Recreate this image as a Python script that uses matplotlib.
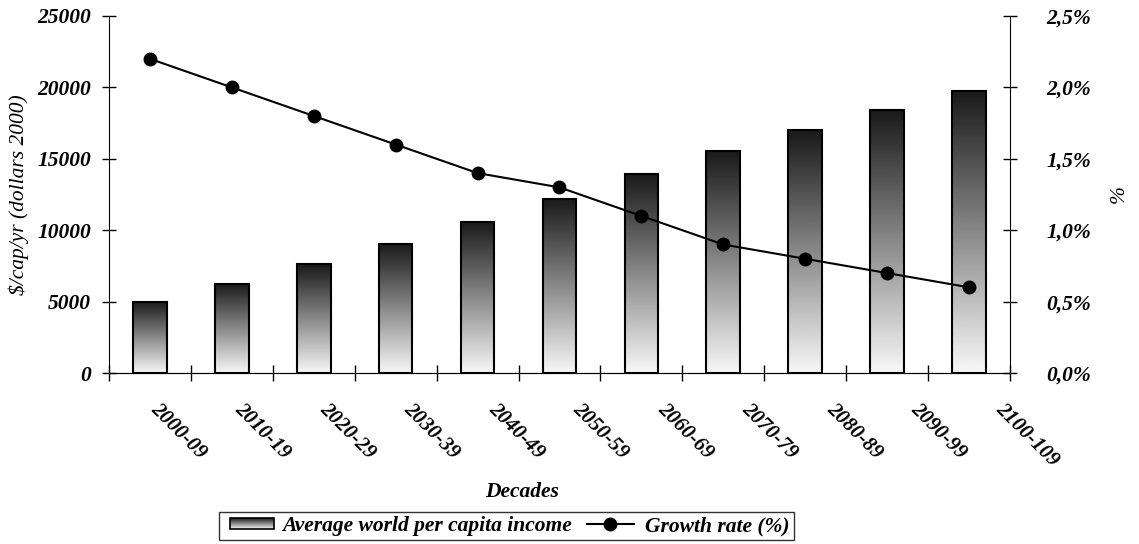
import numpy as np
import matplotlib
matplotlib.use("Agg")
import matplotlib.pyplot as plt
from matplotlib.ticker import FuncFormatter, FixedLocator
from matplotlib.legend_handler import HandlerBase
from matplotlib.image import BboxImage
from matplotlib.transforms import Bbox, TransformedBbox
from matplotlib.patches import Rectangle
from matplotlib.lines import Line2D

decades = ["2000-09", "2010-19", "2020-29", "2030-39", "2040-49", "2050-59",
           "2060-69", "2070-79", "2080-89", "2090-99", "2100-109"]
income = [5000, 6250, 7600, 9050, 10600, 12200, 13950, 15550, 17000, 18450, 19750]
growth = [2.2, 2.0, 1.8, 1.6, 1.4, 1.3, 1.1, 0.9, 0.8, 0.7, 0.6]

plt.rcParams["font.family"] = "Liberation Serif"
plt.rcParams["font.weight"] = "bold"
plt.rcParams["font.style"] = "italic"
plt.rcParams["font.size"] = 15.5

# vertical shade: dark on top, almost white at the base
shade = np.linspace(0.97, 0.1, 256).reshape(-1, 1)


class ShadedBox(HandlerBase):
    def create_artists(self, legend, orig_handle, xdescent, ydescent,
                       width, height, fontsize, trans):
        w = width * 0.92
        h = height * 0.72
        y0 = -ydescent + (height - h) / 2
        x0 = -xdescent + 0.3 * fontsize
        box = Bbox.from_bounds(x0, y0, w, h)
        img = BboxImage(TransformedBbox(box, trans), cmap="gray",
                        norm=plt.Normalize(0, 1), origin="lower")
        img.set_data(shade)
        edge = Rectangle((x0, y0), w, h, fill=False,
                         edgecolor="black", linewidth=1.2, transform=trans)
        return [img, edge]


fig = plt.figure(figsize=(11.39, 5.44), dpi=100)
ax = fig.add_axes([0.0957, 0.3143, 0.791, 0.6563])

x = np.arange(len(decades))
bw = 0.41
bars = ax.bar(x, income, width=bw, facecolor="none", edgecolor="black",
              linewidth=1.5, zorder=3)
for b in bars:
    x0, y0 = b.get_x(), b.get_y()
    im = ax.imshow(shade, cmap="gray", vmin=0, vmax=1, origin="lower",
                   aspect="auto",
                   extent=[x0, x0 + b.get_width(), y0, y0 + b.get_height()],
                   zorder=2)
    im.set_clip_path(b)

ax.set_xlim(-0.5, len(decades) - 0.5)
ax.set_ylim(0, 25000)
ax.set_yticks(np.arange(0, 25001, 5000))
ax.spines["top"].set_visible(False)
ax.spines["right"].set_visible(False)
ax.tick_params(axis="y", direction="inout", length=10, width=1, pad=8)

# category labels drift slightly right of the bars, as in the source layout
ax.set_xticks(x * 1.032 + 0.128)
ax.set_xticklabels(decades, rotation=-45, ha="left", va="top",
                   rotation_mode="anchor", fontsize=15)
ax.xaxis.set_minor_locator(FixedLocator(np.arange(-0.5, len(decades), 1.0)))
ax.tick_params(axis="x", which="major", length=0, pad=19)
ax.tick_params(axis="x", which="minor", direction="inout", length=12, width=1)

ax.set_ylabel("\\$/cap/yr (dollars 2000)", labelpad=6)

ax2 = ax.twinx()
ax2.plot(x, growth, color="black", linewidth=1.5, marker="o", markersize=9,
         zorder=4)
ax2.set_ylim(0, 2.5)
ax2.set_yticks(np.arange(0, 2.51, 0.5))
ax2.yaxis.set_major_formatter(
    FuncFormatter(lambda v, p: f"{v:.1f}%".replace(".", ",")))
ax2.spines["top"].set_visible(False)
ax2.spines["left"].set_visible(False)
ax2.tick_params(axis="y", direction="inout", length=10, width=1, pad=21)
ax2.set_ylabel("%", labelpad=14)

fig.text(0.458, 0.096, "Decades", ha="center", va="center")

h1 = Rectangle((0, 0), 1, 1)
h2 = Line2D([], [], color="black", linewidth=1.5, marker="o", markersize=9)
leg = fig.legend([h1, h2], ["Average world per capita income", "Growth rate (%)"],
                 handler_map={Rectangle: ShadedBox()}, loc="center",
                 bbox_to_anchor=(0.4447, 0.033), ncol=2, frameon=True,
                 fancybox=False, edgecolor="black", borderpad=0.2,
                 handlelength=2.2, handletextpad=0.5, columnspacing=0.7)
leg.get_frame().set_linewidth(1.0)

fig.savefig("out.png", dpi=100)
